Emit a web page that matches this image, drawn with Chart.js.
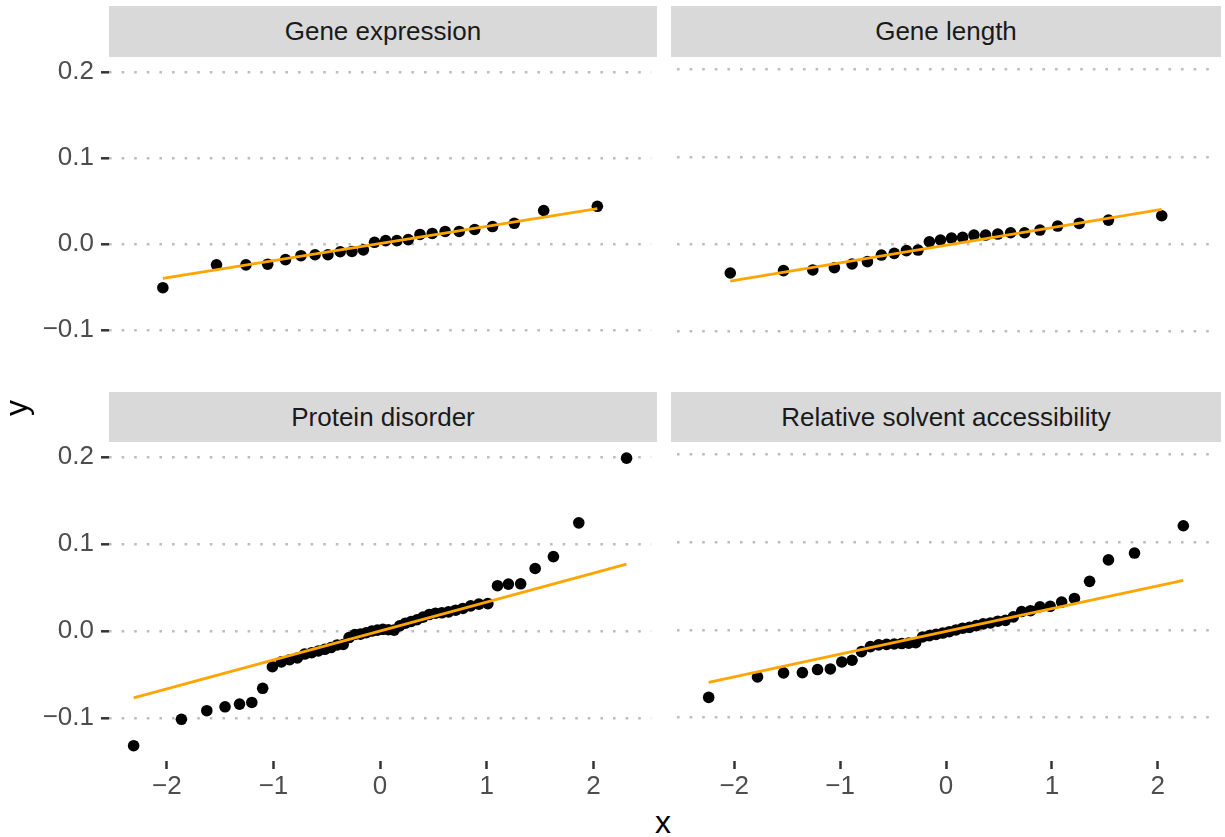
<!DOCTYPE html>
<html>
<head>
<meta charset="utf-8">
<script src="https://cdn.jsdelivr.net/npm/chart.js@4.4.1/dist/chart.umd.min.js"></script>
<style>
  html, body { margin: 0; padding: 0; background: #fff; }
  body { width: 1225px; height: 837px; position: relative; overflow: hidden; font-family: "Liberation Sans", Arial, sans-serif; }
  canvas { position: absolute; }
  .strip { position: absolute; background: #d9d9d9; color: #1a1a1a; font-size: 26px; display: flex; align-items: center; justify-content: center; }
  .axis-title { position: absolute; color: #000; font-size: 32px; line-height: 1; }
</style>
</head>
<body>
<div id="root"></div>
<div class="axis-title" style="left:655px; top:806px;">x</div>
<div class="axis-title" style="left:8px; top:392px; transform: rotate(-90deg);">y</div>
<script>
// theoretical quantiles (x)
const q24 = [-2.037, -1.534, -1.258, -1.054, -0.887, -0.742, -0.610, -0.489, -0.374, -0.264, -0.157, -0.052,
  0.052, 0.157, 0.264, 0.374, 0.489, 0.610, 0.742, 0.887, 1.054, 1.258, 1.534, 2.037];
const q48 = [-2.311, -1.863, -1.625, -1.454, -1.318, -1.203, -1.101, -1.010, -0.926, -0.849, -0.776, -0.708,
  -0.642, -0.579, -0.519, -0.460, -0.402, -0.346, -0.291, -0.237, -0.184, -0.131, -0.078, -0.026,
  0.026, 0.078, 0.131, 0.184, 0.237, 0.291, 0.346, 0.402, 0.460, 0.519, 0.579, 0.642,
  0.708, 0.776, 0.849, 0.926, 1.010, 1.101, 1.203, 1.318, 1.454, 1.625, 1.863, 2.311];
const q40 = [-2.241, -1.780, -1.534, -1.356, -1.213, -1.092, -0.984, -0.887, -0.798, -0.714, -0.636, -0.561,
  -0.489, -0.419, -0.352, -0.286, -0.221, -0.157, -0.094, -0.031, 0.031, 0.094, 0.157, 0.221,
  0.286, 0.352, 0.419, 0.489, 0.561, 0.636, 0.714, 0.798, 0.887, 0.984, 1.092, 1.213, 1.356, 1.534, 1.780, 2.241];

// sample quantiles (y)
const geneExpression = [-0.051, -0.0244, -0.0244, -0.0236, -0.0183, -0.0137, -0.0126, -0.0126, -0.0091, -0.0088, -0.0069, 0.0019,
  0.0038, 0.0038, 0.005, 0.011, 0.0122, 0.0145, 0.0145, 0.0168, 0.0202, 0.024, 0.0389, 0.0438];
const geneLength = [-0.0328, -0.0301, -0.0293, -0.0267, -0.0225, -0.0198, -0.0122, -0.0103, -0.0072, -0.0065, 0.003, 0.005,
  0.0072, 0.008, 0.0107, 0.0107, 0.0118, 0.0133, 0.0133, 0.0164, 0.021, 0.024, 0.0278, 0.0328];
const proteinDisorder = [-0.132, -0.1016, -0.0917, -0.0872, -0.0841, -0.0822, -0.0659, -0.0411,
  -0.0355, -0.033, -0.031, -0.0265, -0.025, -0.023, -0.021, -0.019, -0.016, -0.0155,
  -0.0075, -0.004, -0.0035, -0.002, 0.0, 0.001, 0.002, 0.0015, 0.001, 0.006,
  0.009, 0.011, 0.013, 0.016, 0.019, 0.0205, 0.021, 0.022, 0.024, 0.026, 0.029, 0.031,
  0.0315, 0.0522, 0.054, 0.0544, 0.072, 0.0857, 0.1245, 0.199];
const solventAccess = [-0.077, -0.0536, -0.049, -0.0487, -0.0452, -0.0445, -0.0365, -0.0346, -0.0247,
  -0.019, -0.017, -0.0165, -0.016, -0.0155, -0.015, -0.0145, -0.008, -0.0065, -0.005, -0.0035,
  -0.002, 0.0, 0.002, 0.003, 0.005, 0.007, 0.008, 0.010, 0.011, 0.015, 0.021,
  0.022, 0.0265, 0.027, 0.0318, 0.036, 0.0555, 0.080, 0.0878, 0.119];

// qq reference lines (ends)
const geneExpressionLine = [-0.040, 0.041];
const geneLengthLine = [-0.042, 0.040];
const proteinDisorderLine = [-0.077, 0.077];
const solventAccessLine = [-0.0597, 0.0567];

const yTicks = [-0.1, 0, 0.1, 0.2];
const yTickLabels = ["\u22120.1", "0.0", "0.1", "0.2"];
const xTicks = [-2, -1, 0, 1, 2];
const xTickLabels = ["\u22122", "\u22121", "0", "1", "2"];
const yRange = [-0.1496, 0.2146];
const xRange = [-2.542, 2.542];

const FONT = '"Liberation Sans", Arial, sans-serif';
const PAD = 20;
const X_AXIS_H = 40;
const cols = [{ left: 109, right: 657 }, { left: 671, right: 1221 }];
const rows = [{ top: 57, bottom: 375, strip: 6 }, { top: 442, bottom: 761, strip: 392 }];

const panels = [
  { title: "Gene expression", col: 0, row: 0, x: q24, y: geneExpression, line: geneExpressionLine },
  { title: "Gene length", col: 1, row: 0, x: q24, y: geneLength, line: geneLengthLine },
  { title: "Protein disorder", col: 0, row: 1, x: q48, y: proteinDisorder, line: proteinDisorderLine },
  { title: "Relative solvent accessibility", col: 1, row: 1, x: q40, y: solventAccess, line: solventAccessLine },
];

const root = document.getElementById("root");

function makePanel(p) {
  const col = cols[p.col];
  const row = rows[p.row];
  const showY = p.col === 0;
  const showX = p.row === 1;
  const yW = showY ? col.left : 0;
  const left = col.left - yW;
  const top = row.top - PAD;
  const width = col.right - left;
  const height = row.bottom - top + (showX ? X_AXIS_H : PAD);

  const strip = document.createElement("div");
  strip.className = "strip";
  strip.style.left = col.left + "px";
  strip.style.top = row.strip + "px";
  strip.style.width = (col.right - col.left) + "px";
  strip.style.height = (row.top - row.strip) + "px";
  strip.textContent = p.title;
  root.appendChild(strip);

  const canvas = document.createElement("canvas");
  canvas.width = width;
  canvas.height = height;
  canvas.style.left = left + "px";
  canvas.style.top = top + "px";
  root.appendChild(canvas);

  const xs = [p.x[0], p.x[p.x.length - 1]];

  new Chart(canvas, {
    type: "scatter",
    data: {
      datasets: [
        {
          type: "line",
          data: xs.map((x, i) => ({ x, y: p.line[i] })),
          borderColor: "#ffa500",
          borderWidth: 2.8,
          pointRadius: 0,
          fill: false,
          order: 0,
        },
        {
          data: p.x.map((x, i) => ({ x, y: p.y[i] })),
          backgroundColor: "#000",
          borderWidth: 0,
          pointRadius: 5.8,
          order: 1,
        },
      ],
    },
    options: {
      responsive: false,
      animation: false,
      events: [],
      layout: { padding: { top: PAD, bottom: showX ? 0 : PAD, left: 0, right: 0 } },
      plugins: { legend: { display: false }, tooltip: { enabled: false } },
      scales: {
        x: {
          type: "linear",
          min: xRange[0],
          max: xRange[1],
          display: showX,
          afterBuildTicks: (a) => { a.ticks = xTicks.map((v) => ({ value: v })); },
          afterFit: (a) => { if (showX) a.height = X_AXIS_H; },
          grid: { drawOnChartArea: false, drawTicks: true, tickLength: 8, tickWidth: 2.5, tickColor: "#333333" },
          border: { display: false },
          ticks: {
            padding: 2,
            color: "#4d4d4d",
            maxRotation: 0,
            autoSkip: false,
            font: { size: 26, family: FONT },
            callback: (v, i) => xTickLabels[i],
          },
        },
        y: {
          type: "linear",
          min: yRange[0],
          max: yRange[1],
          afterBuildTicks: (a) => { a.ticks = yTicks.map((v) => ({ value: v })); },
          afterFit: (a) => { a.width = yW; },
          grid: {
            color: "#bdbdbd",
            lineWidth: 2.6,
            drawTicks: showY,
            tickLength: 8,
            tickWidth: 2.5,
            tickColor: "#333333",
            tickBorderDash: [],
          },
          border: { display: false, dash: [2.6, 10] },
          ticks: {
            display: showY,
            padding: 7,
            color: "#4d4d4d",
            font: { size: 26, family: FONT },
            callback: (v, i) => yTickLabels[i],
          },
        },
      },
    },
  });
}

panels.forEach(makePanel);
</script>
</body>
</html>
